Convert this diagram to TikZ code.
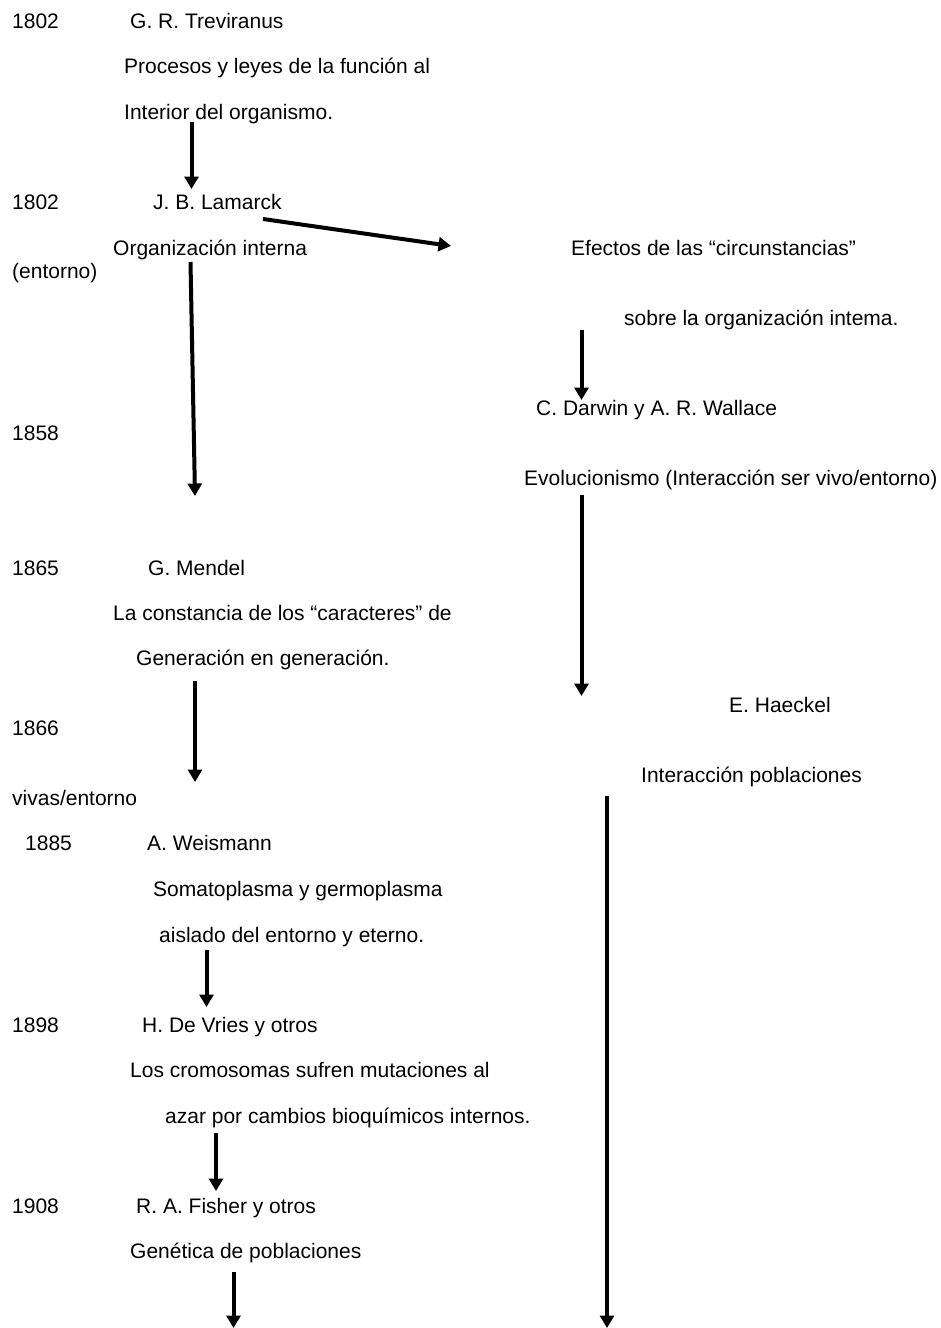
\documentclass[tikz,border=0pt]{standalone}
\usepackage{fontspec}
\setmainfont{Liberation Sans}
\usepackage{tikz}
\usetikzlibrary{arrows.meta}

\begin{document}
\begin{tikzpicture}[x=1pt,y=-1pt,
    txt/.style={anchor=base west,inner sep=0pt,font=\fontsize{21}{25}\selectfont},
    flow/.style={line width=4pt,-{Triangle[width=14pt,length=12.5pt]}}]
  \useasboundingbox (0,0) rectangle (940,1328);

  % 1802 Treviranus
  \node[txt] (y1802a) at (12,28) {1802};
  \node[txt] (trev) at (130,28) {G. R. Treviranus};
  \node[txt] (trev1) at (124,73) {Procesos y leyes de la función al};
  \node[txt] (trev2) at (124,119) {Interior del organismo.};

  % 1802 Lamarck
  \node[txt] (y1802b) at (12,209) {1802};
  \node[txt] (lamarck) at (153,209) {J. B. Lamarck};
  \node[txt] (lam1) at (113,255) {Organización interna};
  \node[txt] (entorno) at (12,278) {(entorno)};
  \node[txt] (efect1) at (571,255) {Efectos de las “circunstancias”};
  \node[txt] (efect2) at (624,325) {sobre la organización intema.};

  % 1858 Darwin y Wallace
  \node[txt] (darwin) at (536,415) {C. Darwin y A. R. Wallace};
  \node[txt] (y1858) at (12,440) {1858};
  \node[txt] (evol) at (524,485) {Evolucionismo (Interacción ser vivo/entorno)};

  % 1865 Mendel
  \node[txt] (y1865) at (12,575) {1865};
  \node[txt] (mendel) at (148,575) {G. Mendel};
  \node[txt] (mend1) at (113,620) {La constancia de los “caracteres” de};
  \node[txt] (mend2) at (136,665) {Generación en generación.};

  % 1866 Haeckel
  \node[txt] (haeckel) at (729,712) {E. Haeckel};
  \node[txt] (y1866) at (12,735) {1866};
  \node[txt] (haeck1) at (641,782) {Interacción poblaciones};
  \node[txt] (haeck2) at (12,805) {vivas/entorno};

  % 1885 Weismann
  \node[txt] (y1885) at (25,850) {1885};
  \node[txt] (weismann) at (147,850) {A. Weismann};
  \node[txt] (weis1) at (153,896) {Somatoplasma y germoplasma};
  \node[txt] (weis2) at (159,942) {aislado del entorno y eterno.};

  % 1898 De Vries
  \node[txt] (y1898) at (12,1032) {1898};
  \node[txt] (devries) at (142,1032) {H. De Vries y otros};
  \node[txt] (vries1) at (130,1077) {Los cromosomas sufren mutaciones al};
  \node[txt] (vries2) at (165,1123) {azar por cambios bioquímicos internos.};

  % 1908 Fisher
  \node[txt] (y1908) at (12,1213) {1908};
  \node[txt] (fisher) at (136,1213) {R. A. Fisher y otros};
  \node[txt] (fish1) at (130,1258) {Genética de poblaciones};

  % Arrow ends
  \coordinate (a1s) at (191.5,122);  \coordinate (a1e) at (191.5,189);
  \coordinate (a2s) at (263,219);    \coordinate (a2e) at (451,246);
  \coordinate (a3s) at (190.5,262);  \coordinate (a3e) at (195,496);
  \coordinate (a4s) at (581.5,330);  \coordinate (a4e) at (581.5,400);
  \coordinate (a5s) at (581.5,495);  \coordinate (a5e) at (581.5,696);
  \coordinate (a6s) at (195,681);    \coordinate (a6e) at (195,782);
  \coordinate (a7s) at (607,796);    \coordinate (a7e) at (607,1328);
  \coordinate (a8s) at (206.5,950);  \coordinate (a8e) at (206.5,1007);
  \coordinate (a9s) at (216,1133);   \coordinate (a9e) at (216,1191);
  \coordinate (a10s) at (233.5,1272); \coordinate (a10e) at (233.5,1328);

  % Arrows
  \draw[flow] (a1s) -- (a1e);
  \draw[flow] (a2s) -- (a2e);
  \draw[flow] (a3s) -- (a3e);
  \draw[flow] (a4s) -- (a4e);
  \draw[flow] (a5s) -- (a5e);
  \draw[flow] (a6s) -- (a6e);
  \draw[flow] (a7s) -- (a7e);
  \draw[flow] (a8s) -- (a8e);
  \draw[flow] (a9s) -- (a9e);
  \draw[flow] (a10s) -- (a10e);
\end{tikzpicture}
\end{document}
